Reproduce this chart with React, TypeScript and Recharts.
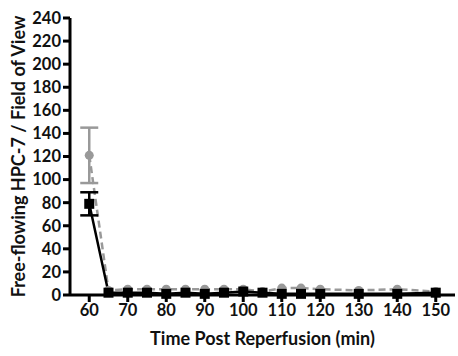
import React from "react";
import { LineChart, Line, XAxis, YAxis, ErrorBar } from "recharts";

const times = [60, 65, 70, 75, 80, 85, 90, 95, 100, 105, 110, 115, 120, 130, 140, 150];
const grayMean = [121, 4, 5, 5, 5, 5, 5, 5, 5, 3, 6, 6, 5, 4, 5, 3];
const grayErr = [24, 0, 0, 0, 0, 0, 0, 0, 0, 0, 0, 0, 0, 0, 0, 0];
const blackMean = [79, 2, 2, 2, 1, 2, 1, 2, 3, 2, 1, 1, 1, 1, 1, 2];
const blackErr = [10, 0, 0, 0, 0, 0, 0, 0, 0, 0, 0, 0, 0, 0, 0, 0];
const xTicks = [60, 70, 80, 90, 100, 110, 120, 130, 140, 150];
const yTicks = [0, 20, 40, 60, 80, 100, 120, 140, 160, 180, 200, 220, 240];

const data = times.map((t, i) => ({
  t,
  gray: grayMean[i],
  grayE: grayErr[i],
  black: blackMean[i],
  blackE: blackErr[i],
}));

const FONT = "Lato, 'Open Sans', sans-serif";

// square marker for the black series
const SquareDot = (props: any) => {
  const { cx, cy } = props;
  if (cx == null || cy == null) return null;
  return <rect x={cx - 5} y={cy - 5} width={10} height={10} fill="#000" />;
};

const App: React.FC = () => {
  return (
    <div style={{ position: "absolute", left: 0, top: 0, background: "#fff" }}>
      <LineChart
        width={458}
        height={356}
        data={data}
        margin={{ top: 18, right: 3, left: 0, bottom: 0 }}
      >
        <XAxis
          dataKey="t"
          type="number"
          domain={[55, 155]}
          ticks={xTicks}
          allowDataOverflow
          stroke="#000"
          strokeWidth={3}
          tickSize={7}
          height={61}
          tick={{ fill: "#111", fontSize: 16.5, fontWeight: 700, fontFamily: FONT }}
          label={{
            value: "Time Post Reperfusion (min)",
            position: "insideBottom",
            offset: 11,
            fill: "#111",
            fontSize: 18,
            fontWeight: 700,
            fontFamily: FONT,
          }}
        />
        <YAxis
          domain={[0, 240]}
          ticks={yTicks}
          stroke="#000"
          strokeWidth={3}
          tickSize={7}
          width={70}
          interval={0}
          tick={{ fill: "#111", fontSize: 16.5, fontWeight: 700, fontFamily: FONT }}
          label={{
            value: "Free-flowing HPC-7 / Field of View",
            angle: -90,
            position: "insideLeft",
            offset: 19,
            fill: "#111",
            fontSize: 18,
            fontWeight: 700,
            fontFamily: FONT,
            style: { textAnchor: "middle" },
          }}
        />
        <Line
          dataKey="gray"
          stroke="#999"
          strokeWidth={2.5}
          strokeDasharray="7 4"
          dot={{ r: 4.5, fill: "#999", stroke: "#999", strokeWidth: 0 }}
          isAnimationActive={false}
        >
          <ErrorBar dataKey="grayE" direction="y" width={9} stroke="#999" strokeWidth={2.5} />
        </Line>
        <Line
          dataKey="black"
          stroke="#000"
          strokeWidth={2.5}
          dot={<SquareDot />}
          isAnimationActive={false}
        >
          <ErrorBar dataKey="blackE" direction="y" width={9} stroke="#000" strokeWidth={2.5} />
        </Line>
      </LineChart>
    </div>
  );
};

export default App;
